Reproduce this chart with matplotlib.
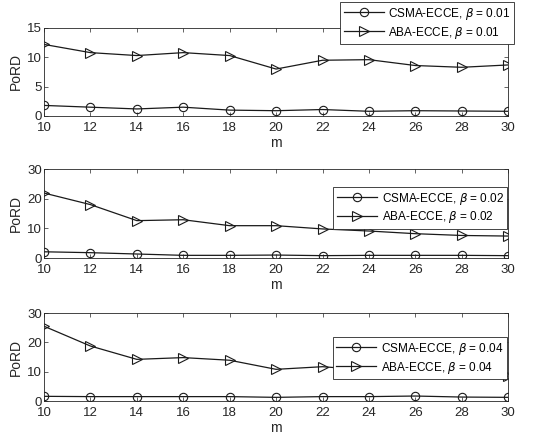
import matplotlib
matplotlib.use("Agg")
import matplotlib.pyplot as plt

plt.rcParams['font.family'] = ['Liberation Sans', 'DejaVu Sans']
plt.rcParams['mathtext.fontset'] = 'dejavusans'

m = [10, 12, 14, 16, 18, 20, 22, 24, 26, 28, 30]

csma_001 = [1.8, 1.5, 1.2, 1.5, 1.0, 0.9, 1.1, 0.8, 0.9, 0.85, 0.8]
aba_001 = [12.2, 10.8, 10.3, 10.8, 10.3, 8.0, 9.5, 9.6, 8.6, 8.3, 8.7]

csma_002 = [2.1, 1.8, 1.35, 0.9, 0.9, 1.0, 0.8, 0.9, 0.9, 0.9, 0.8]
aba_002 = [21.9, 18.0, 12.6, 12.9, 10.9, 10.9, 9.8, 9.1, 8.2, 7.6, 7.4]

csma_004 = [1.6, 1.5, 1.5, 1.5, 1.5, 1.25, 1.5, 1.5, 1.7, 1.35, 1.25]
aba_004 = [25.5, 18.75, 14.2, 14.8, 13.9, 10.8, 11.7, 10.5, 10.1, 9.7, 8.4]

betas = ['0.01', '0.02', '0.04']
csma_all = [csma_001, csma_002, csma_004]
aba_all = [aba_001, aba_002, aba_004]
ylims = [(0, 15), (0, 30), (0, 30)]
yticks = [[0, 5, 10, 15], [0, 10, 20, 30], [0, 10, 20, 30]]

fig = plt.figure(figsize=(5.5, 4.4), dpi=100)
rects = [[0.080, 0.7364, 0.844, 0.2],
         [0.080, 0.4136, 0.844, 0.2023],
         [0.080, 0.0886, 0.844, 0.2]]
leg_anchor = [(1.013, 1.295), (0.998, 0.798), (0.998, 0.727)]

for i in range(3):
    ax = fig.add_axes(rects[i])
    ax.plot(m, csma_all[i], color='#1a1a1a', lw=0.9, marker='o', ms=6,
            mfc='none', mec='#1a1a1a', mew=0.8,
            label=r'CSMA-ECCE, $\beta$ = ' + betas[i])
    ax.plot(m, aba_all[i], color='#1a1a1a', lw=0.9, marker='>', ms=6.5,
            mfc='none', mec='#1a1a1a', mew=0.8,
            label=r'ABA-ECCE, $\beta$ = ' + betas[i])
    ax.set_xlim(10, 30)
    ax.set_ylim(*ylims[i])
    ax.set_xticks(m)
    ax.set_yticks(yticks[i])
    ax.tick_params(direction='in', top=True, right=True, labelsize=9.5,
                   length=3, width=0.5, colors='#262626', pad=1.5)
    ax.tick_params(axis='x', pad=4.5)
    for s in ax.spines.values():
        s.set_linewidth(0.6)
        s.set_color('#262626')
    ax.set_xlabel('m', fontsize=10, color='#262626', labelpad=1)
    ax.set_ylabel('PoRD', fontsize=10, color='#262626', labelpad=3)
    leg = ax.legend(loc='upper right', bbox_to_anchor=leg_anchor[i],
                    fontsize=8.5, handlelength=3.4, fancybox=False,
                    framealpha=1, edgecolor='#262626', borderpad=0.3,
                    labelspacing=0.25, handletextpad=0.4, borderaxespad=0)
    leg.get_frame().set_linewidth(0.6)
    leg.set_zorder(5)

fig.savefig('out.png', dpi=100)
